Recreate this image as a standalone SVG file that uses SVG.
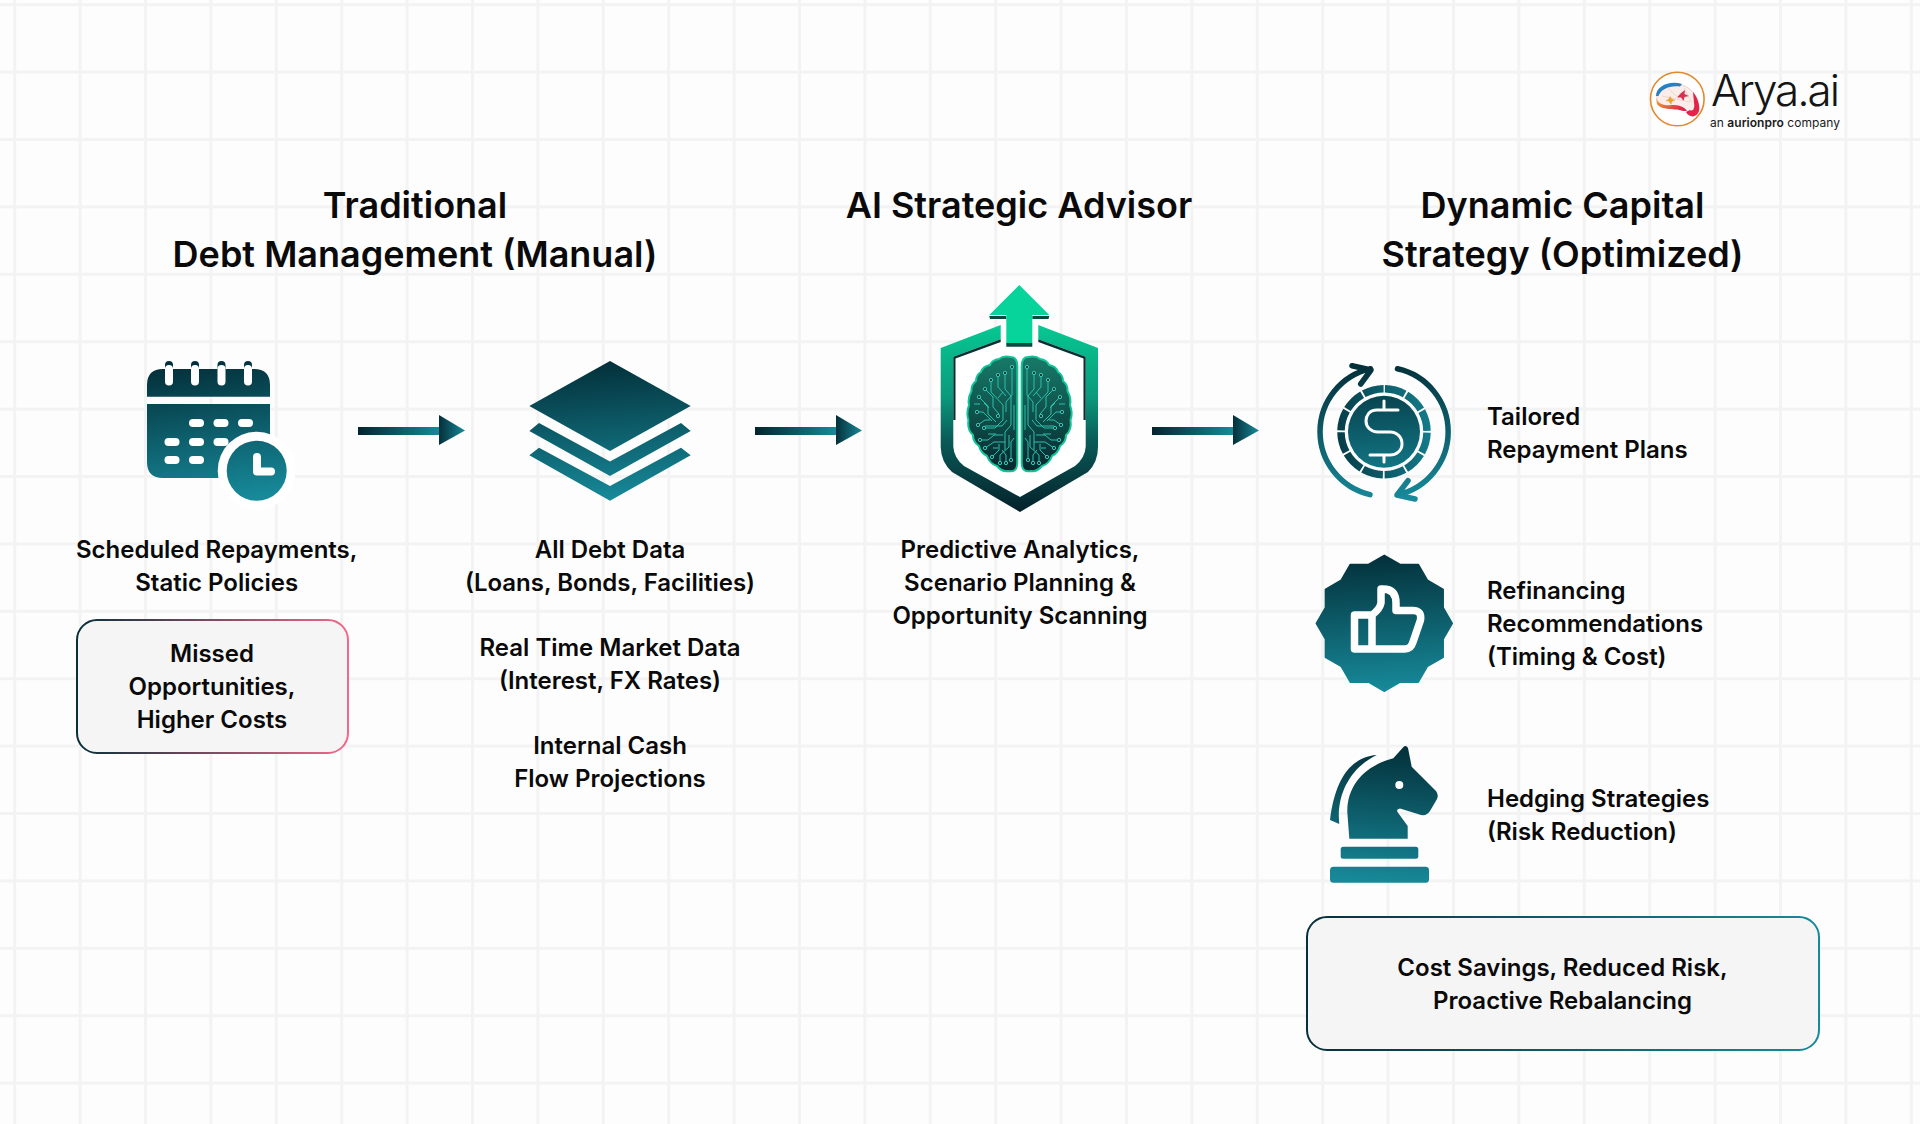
<svg xmlns="http://www.w3.org/2000/svg" xmlns:xlink="http://www.w3.org/1999/xlink" width="1920" height="1124" viewBox="0 0 1920 1124">
<defs>
<style>
text{font-family:"Inter","Liberation Sans",sans-serif;fill:#0a0a0a}
.title{font-size:36px;font-weight:600;text-anchor:middle}
.body{font-size:24px;font-weight:600;text-anchor:middle}
.side{font-size:24px;font-weight:600}
.w{fill:#fff}
.trace{fill:none;stroke:#2cc0ab;stroke-width:1;stroke-linejoin:round}
.dot{fill:#0d3a3e;stroke:#35c9b4;stroke-width:1}
</style>
<pattern id="grid" patternUnits="userSpaceOnUse" x="13.2" y="3.2" width="65.4" height="67.4">
<rect x="0" y="0" width="3" height="67.4" fill="#f3f3f3"/>
<rect x="0" y="0" width="65.4" height="3" fill="#f3f3f3"/>
</pattern>
<linearGradient id="gCal" gradientUnits="userSpaceOnUse" x1="205" y1="361" x2="225" y2="502"><stop offset="0" stop-color="#03303a"/><stop offset="1" stop-color="#178a9a"/></linearGradient>
<linearGradient id="gLay" gradientUnits="userSpaceOnUse" x1="605" y1="361" x2="615" y2="501"><stop offset="0" stop-color="#03303a"/><stop offset="1" stop-color="#178a9a"/></linearGradient>
<linearGradient id="gMon" gradientUnits="userSpaceOnUse" x1="1380" y1="365" x2="1390" y2="500"><stop offset="0" stop-color="#03303a"/><stop offset="1" stop-color="#178a9a"/></linearGradient>
<linearGradient id="gBad" gradientUnits="userSpaceOnUse" x1="1380" y1="555" x2="1388" y2="691"><stop offset="0" stop-color="#03303a"/><stop offset="1" stop-color="#178a9a"/></linearGradient>
<linearGradient id="gKni" gradientUnits="userSpaceOnUse" x1="1385" y1="746" x2="1375" y2="883"><stop offset="0" stop-color="#03303a"/><stop offset="1" stop-color="#178a9a"/></linearGradient>
<linearGradient id="gShaft" x1="0" y1="0" x2="1" y2="0"><stop offset="0" stop-color="#03252e"/><stop offset="1" stop-color="#178a9a"/></linearGradient>
<linearGradient id="gHead" x1="0" y1="0" x2="1" y2="0"><stop offset="0" stop-color="#04303a"/><stop offset="1" stop-color="#178a9a"/></linearGradient>
<linearGradient id="gShield" gradientUnits="userSpaceOnUse" x1="1020" y1="325" x2="1020" y2="512"><stop offset="0" stop-color="#06c892"/><stop offset="0.38" stop-color="#0b9a7c"/><stop offset="0.62" stop-color="#0a5a58"/><stop offset="1" stop-color="#04212a"/></linearGradient>
<linearGradient id="gBrain" gradientUnits="userSpaceOnUse" x1="1020" y1="357" x2="1020" y2="471"><stop offset="0" stop-color="#177a68"/><stop offset="1" stop-color="#07272e"/></linearGradient>
<linearGradient id="gBoxR" x1="0" y1="0" x2="1" y2="0"><stop offset="0" stop-color="#07303a"/><stop offset="1" stop-color="#f4688a"/></linearGradient>
<linearGradient id="gBoxT" x1="0" y1="0" x2="1" y2="0"><stop offset="0" stop-color="#07303a"/><stop offset="1" stop-color="#178a9a"/></linearGradient>
<linearGradient id="gLogo" x1="0" y1="0" x2="1" y2="0.3"><stop offset="0" stop-color="#e9a32f"/><stop offset="1" stop-color="#e2234b"/></linearGradient>
<g id="lobe">
<path d="M1017.300 366Q1017 357 1011 357Q1003 355.500 999 359Q992 360 990 365Q983 366 981 372Q976 375 976 381Q971 385 971.500 391Q967.500 398 969 405Q966 413 968.500 420Q967 430 973 435Q973 442 979 446Q981 453 987 456Q990 464 997 466Q1002 472 1008 471Q1017 473 1017.300 463Z" fill="url(#gBrain)" stroke="#12c497" stroke-width="2"/>
<path class="trace" d="M1012 367V395L1006 402V412M1005 373V389L1011 396V425L1005 432V450M998 375V387L1006 396M991 380V392L1003 405V420L995 428H984M985 389L993 397V407L999 414M979 397L988 406V414L996 422M977 412H983L992 421M985 426H1002L1007 420M980 440H988L994 435H1003M985 448L994 442H1005M992 457L999 450V444M1000 463V455L1009 447V435M1011 460V442L1014 438M984 403L989 408M974 404H980M1014 405V430M998 398L1003 392M978 425L985 420H990M988 434H996M1002 450L1006 455V463M993 448H998"/>
<circle class="dot" cx="1012" cy="367" r="1.700"/><circle class="dot" cx="1005" cy="373" r="1.700"/><circle class="dot" cx="998" cy="375" r="1.700"/><circle class="dot" cx="991" cy="380" r="1.700"/><circle class="dot" cx="985" cy="389" r="1.700"/><circle class="dot" cx="979" cy="397" r="1.700"/><circle class="dot" cx="977" cy="412" r="1.700"/><circle class="dot" cx="984" cy="428" r="1.700"/><circle class="dot" cx="980" cy="440" r="1.700"/><circle class="dot" cx="985" cy="448" r="1.700"/><circle class="dot" cx="992" cy="457" r="1.700"/><circle class="dot" cx="1000" cy="463" r="1.700"/><circle class="dot" cx="1011" cy="460" r="1.700"/><circle class="dot" cx="998" cy="416" r="1.700"/><circle class="dot" cx="1006" cy="463" r="1.700"/><circle class="dot" cx="978" cy="425" r="1.700"/>
</g>
</defs>
<rect width="1920" height="1124" fill="#fdfdfd"/>
<rect x="0" y="0" width="1920" height="1124" fill="url(#grid)"/>

<g id="logo">
<circle cx="1677.300" cy="99" r="26.800" fill="#fff" stroke="#e08a2f" stroke-width="1.600"/>
<path d="M1657 96C1658 86 1672 82 1682 85C1692 88 1699 98 1699 108C1699 115 1691 117 1687 112C1683 106 1672 108 1664 107C1659 105 1656 101 1657 96Z" fill="#fbeeea" stroke="#e2b0b0" stroke-width=".6"/>
<path d="M1656 96C1656 86 1670 80 1682 84L1680 86.500C1670 85 1661 89 1658.500 96Z" fill="#2a7fc1"/>
<path d="M1656 98C1658 104 1664 106 1672 105C1678 105 1684 106 1687 111L1683 111C1676 108 1662 111 1657 104Z" fill="url(#gLogo)"/>
<path d="M1693 92C1698 98 1700 106 1699 111C1697 118 1689 118 1686 112L1690 110C1693 112 1695 108 1694 103Z" fill="#e2234b"/>
<path d="M1681 93L1685 90L1684.500 94L1689 96L1684.500 97L1683.500 101L1681 97.500L1677 97.500Z" fill="#d9304f"/>
<path d="M1670 96L1672 99L1675.500 100L1672 101.500L1671 105L1669 101.500L1665.500 101L1668.500 99Z" fill="#e9a32f"/>
<path d="M1668 88L1678 98M1684 88L1692 103M1662 96L1690 102" stroke="#e8b4b4" stroke-width=".5" fill="none"/>
<text x="1711" y="105.500" textLength="129" style="font-size:44px;font-weight:300;fill:#151515">Arya.ai</text>
<text x="1710" y="127" textLength="130" style="font-size:12px;font-weight:400;fill:#1a1a1a">an <tspan font-weight="600">aurionpro</tspan> company</text>
</g>

<g id="titles">
<text class="title" x="415" y="218">Traditional</text>
<text class="title" x="415" y="267">Debt Management (Manual)</text>
<text class="title" x="1019" y="218">AI Strategic Advisor</text>
<text class="title" x="1562.500" y="218">Dynamic Capital</text>
<text class="title" x="1562.500" y="267">Strategy (Optimized)</text>
</g>

<g id="node-scheduled">
<path fill="url(#gCal)" d="M147 396.700V385Q147 369 163 369H254Q270 369 270 385V396.700ZM147 404H270V478H163Q147 478 147 462Z"/>
<g fill="url(#gCal)"><rect x="165" y="361" width="8" height="14" rx="4"/><rect x="191" y="361" width="8" height="14" rx="4"/><rect x="217.500" y="361" width="8" height="14" rx="4"/><rect x="244" y="361" width="8" height="14" rx="4"/></g>
<g class="w"><rect x="165" y="365" width="8" height="20.500" rx="4"/><rect x="191" y="365" width="8" height="20.500" rx="4"/><rect x="217.500" y="365" width="8" height="20.500" rx="4"/><rect x="244" y="365" width="8" height="20.500" rx="4"/>
<rect x="189" y="419" width="15" height="8" rx="4"/><rect x="213.500" y="419" width="15" height="8" rx="4"/><rect x="238" y="419" width="15" height="8" rx="4"/>
<rect x="164.500" y="438" width="15" height="8" rx="4"/><rect x="189" y="438" width="15" height="8" rx="4"/><rect x="213.500" y="438" width="15" height="8" rx="4"/>
<rect x="164.500" y="456" width="15" height="8" rx="4"/><rect x="189" y="456" width="15" height="8" rx="4"/>
<circle cx="256.700" cy="470.700" r="39"/></g>
<circle cx="256.700" cy="470.700" r="30" fill="url(#gCal)"/>
<path d="M257 457V471.500H271" fill="none" stroke="#fff" stroke-width="8" stroke-linecap="round" stroke-linejoin="round"/>
<text class="body" x="216.700" y="558">Scheduled Repayments,</text>
<text class="body" x="216.700" y="591">Static Policies</text>
</g>

<g id="node-missed">
<rect x="77" y="620" width="271" height="133" rx="20" fill="#f5f5f5" stroke="url(#gBoxR)" stroke-width="2"/>
<text class="body" x="212" y="662">Missed</text>
<text class="body" x="212" y="695">Opportunities,</text>
<text class="body" x="212" y="728">Higher Costs</text>
</g>

<g id="node-data">
<g fill="url(#gLay)">
<path d="M529.300 406L610 361L690.700 406L610 451Z"/>
<path d="M529.300 431L539 423L610 461.500L681 423L690.700 431L610 476Z"/>
<path d="M529.300 455.300L539 447.700L610 486L681 447.700L690.700 455.300L610 500.700Z"/>
</g>
<text class="body" x="610" y="558">All Debt Data</text>
<text class="body" x="610" y="591">(Loans, Bonds, Facilities)</text>
<text class="body" x="610" y="656">Real Time Market Data</text>
<text class="body" x="610" y="689">(Interest, FX Rates)</text>
<text class="body" x="610" y="754">Internal Cash</text>
<text class="body" x="610" y="787">Flow Projections</text>
</g>

<g id="connectors">
<g><rect x="358" y="427" width="81" height="8" fill="url(#gShaft)"/><path d="M439 415L465 430.500L439 445Z" fill="url(#gHead)"/></g>
<g><rect x="755" y="427" width="81" height="8" fill="url(#gShaft)"/><path d="M836 415L862 430.500L836 445Z" fill="url(#gHead)"/></g>
<g><rect x="1152" y="427" width="81" height="8" fill="url(#gShaft)"/><path d="M1233 415L1259 430.500L1233 445Z" fill="url(#gHead)"/></g>
</g>

<g id="node-advisor">
<path d="M953.300 356.700L1000.700 339L1038 339L1085.700 356.700V446.700Q1085 458 1075 466L1020 497L964 466Q954 458 953.300 446.700Z" fill="#fff"/>
<path d="M1000.700 325L940.700 348V447Q941 462 952 472L1020 512L1088 472Q1098 462 1098 447V348L1038.300 325V339.300L1085.700 356.700V446.700Q1085 458 1075 466L1020 497L964 466Q954 458 953.300 446.700V356.700L1000.700 339.300Z" fill="url(#gShield)"/>
<path d="M953.300 356.700L1000.700 339.300V342L955.500 358.500V420H953.300ZM1085.700 356.700L1038.300 339.300V342L1083.500 358.500V420H1085.700Z" fill="#0a2f33"/>
<path d="M1006.300 346.700V316H989.300L990 319H1006.300M1032.300 346.700V316H1049.300L1048.500 319H1032.300M1006.300 343H1032.300V346.700H1006.300Z" fill="#0a4a42"/>
<path d="M1019.300 285L1049.300 315H1032.300V343H1006.300V315H989.300Z" fill="#06d49b"/>
<use href="#lobe"/>
<use href="#lobe" transform="translate(2039,0) scale(-1,1)"/>
<text class="body" x="1020" y="558">Predictive Analytics,</text>
<text class="body" x="1020" y="591">Scenario Planning &amp;</text>
<text class="body" x="1020" y="624">Opportunity Scanning</text>
</g>

<g id="node-repayment">
<path d="M1370 494.600A64.500 64.500 0 0 1 1370.500 368.800M1352 365.700L1371 370L1360.700 384M1397.500 368.800A64.500 64.500 0 0 1 1397.500 494.800M1415 499L1397 495L1408 480.700" fill="none" stroke="url(#gMon)" stroke-width="5.500" stroke-linecap="round" stroke-linejoin="round"/>
<circle cx="1384" cy="431.700" r="43" fill="none" stroke="url(#gMon)" stroke-width="7.500" stroke-dasharray="20.700 1.820" stroke-dashoffset="-0.910" transform="rotate(-90 1384 431.700)"/>
<circle cx="1384" cy="431.700" r="36" fill="url(#gMon)"/>
<path d="M1398 410H1377C1369 410 1366 416 1366 421C1366 427 1371 432 1378 432H1390C1397 432 1402 437 1402 444C1402 451 1396 455 1390 455H1370M1384 401V409M1384 455V462" fill="none" stroke="#fff" stroke-width="3" stroke-linecap="round" stroke-linejoin="round"/>
<text class="side" x="1487" y="425">Tailored</text>
<text class="side" x="1487" y="458">Repayment Plans</text>
</g>

<g id="node-refinancing">
<path fill="url(#gBad)" stroke="url(#gBad)" stroke-width="1.500" stroke-linejoin="round" d="M1384.300 555.300L1400.100 564.400H1418.300L1427.400 580.200L1443.200 589.300V607.500L1452.300 623.300L1443.200 639.100V657.300L1427.400 666.400L1418.300 682.200H1400.100L1384.300 691.300L1368.500 682.200H1350.300L1341.200 666.400L1325.400 657.300V639.100L1316.300 623.300L1325.400 607.500V589.300L1341.200 580.200L1350.300 564.400H1368.500Z"/>
<path d="M1372 615H1354.500V649H1405Q1411 649 1413 642L1420.500 620Q1422 610.500 1413 610.500H1396V603Q1396 589 1383 589H1381V603Q1380 609 1372 615V649" fill="none" stroke="#fff" stroke-width="7.500" stroke-linejoin="round"/>
<text class="side" x="1487" y="599">Refinancing</text>
<text class="side" x="1487" y="632">Recommendations</text>
<text class="side" x="1487" y="665">(Timing &amp; Cost)</text>
</g>

<g id="node-hedging">
<g fill="url(#gKni)">
<path d="M1393.300 758.300L1403 747.500Q1406 744.500 1408 748L1411.700 766.700L1436 791Q1439 795 1437 799L1430 811Q1427 816 1421 815L1400 808.500Q1396 809 1397.500 812L1407.700 826V838.700H1349.300L1347.300 812C1347 786 1364 766 1393.300 758.300Z"/>
<path d="M1376.700 755C1350 757 1335 780 1330 820L1339.300 824C1336 795 1350 768 1376.700 755Z"/>
<rect x="1340.700" y="846.700" width="77.600" height="12" rx="2.500"/>
<rect x="1330" y="866.700" width="99" height="16" rx="3.500"/>
</g>
<circle cx="1399.300" cy="785" r="4" fill="#fff"/>
<text class="side" x="1487" y="807">Hedging Strategies</text>
<text class="side" x="1487" y="840">(Risk Reduction)</text>
</g>

<g id="node-outcome">
<rect x="1307" y="917" width="512" height="133" rx="20" fill="#f5f5f5" stroke="url(#gBoxT)" stroke-width="2"/>
<text class="body" x="1562.500" y="976">Cost Savings, Reduced Risk,</text>
<text class="body" x="1562.500" y="1009">Proactive Rebalancing</text>
</g>
</svg>
